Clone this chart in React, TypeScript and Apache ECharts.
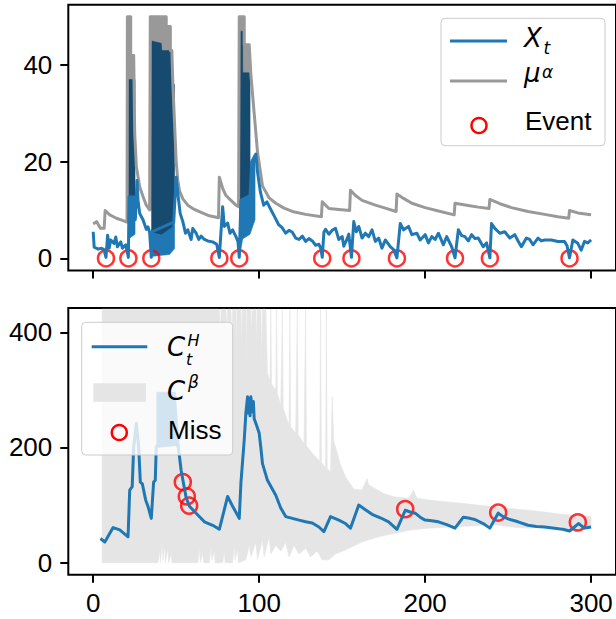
import React, { useEffect, useRef } from 'react';
import * as echarts from 'echarts';

// ---------- data ----------
const xTickValues = [0, 100, 200, 300];
const topYTicks = [0, 20, 40];
const bottomYTicks = [0, 200, 400];

const eventTimes = [7.7, 21.2, 35, 76, 88, 138, 155.6, 183, 218, 239, 287];

const xtPoints: number[][] = [
  [0, 5.5], [0.6, 2.3], [3, 1.9], [5, 2.1], [6.5, 1.8], [7.7, 0.2], [8.7, 4.8], [9.6, 2.1], [10.6, 3.8],
  [12.6, 3.1], [13.6, 4.4], [14.6, 2.4], [16.6, 3.4], [17.6, 2.1], [19.6, 2.8], [20.4, 1.5], [21.2, 0.2],
  [21.6, 12.7], [24.8, 12.7], [25.4, 8], [26.4, 16.1], [27, 12], [28, 9.3], [30, 8], [31, 7], [32, 6],
  [33, 6.5], [34, 5.4], [35, 0.2], [35.5, 5.5], [48.5, 7.5], [50, 16.8], [51, 13.4], [52.4, 9.3], [54, 7.6],
  [55.6, 5.2], [57, 5.9], [59, 3.9], [60, 6.2], [62, 5.2], [63.6, 3.9], [65, 4.6], [67, 3.9], [69, 3.6],
  [72, 3.4], [74.4, 2.9], [76, 0.2], [78, 10.7], [79, 6.6], [81, 7.3], [82.4, 5.2], [84, 5.9], [86, 4.5],
  [87.2, 3.5], [88, 0.2], [89, 12], [94.5, 13], [95.5, 20], [98, 21.6], [99, 17.9], [100.7, 13.8],
  [102.7, 11], [104.7, 11.7], [106.7, 10.3], [108.7, 9], [111.7, 7], [113.7, 6.4], [116, 5.2], [118, 5.8],
  [120, 5.4], [122, 4.2], [124, 3.9], [126, 4.6], [128, 3.5], [130, 4.1], [132, 3.6], [134, 2.7], [136, 2.9],
  [137.2, 2], [138, 0.2], [139, 5.4], [140, 6], [142, 5], [144, 5.8], [146, 6.2], [148, 3.9], [150, 4.5],
  [151, 2.5], [153, 4], [154, 5], [155.6, 0.2], [157, 7.6], [158.5, 5.5], [160, 6.6], [162, 4.2], [164, 5.2],
  [166, 4.5], [168, 5.9], [170, 3.5], [172, 4.2], [174, 2.1], [176, 3.8], [179, 2.4], [181, 1.8], [183, 0.1],
  [185, 7.2], [187, 5.9], [190, 6.6], [192, 4.9], [195, 5.2], [197, 3.8], [200, 4.9], [202, 3.2], [204, 4.5],
  [206, 3.9], [208, 5.2], [211, 2.8], [213, 4.5], [216, 2.4], [218, 0.1], [220, 5.9], [222, 4.7], [224, 4.5],
  [226, 3.6], [228, 4.9], [230, 4.1], [232, 4.2], [235, 2.4], [237, 3.2], [239, 0.1], [240, 7.2], [242, 6.2],
  [245, 5.2], [248, 5.5], [251, 4.2], [254, 4.9], [256, 3.6], [258, 2.4], [261, 4.2], [263, 3.9], [265, 2.8],
  [268, 4.2], [270, 3.6], [272, 3.8], [276, 3.8], [280, 3.5], [284, 3.5], [285.5, 2.6], [287, 0.1], [289, 3.8],
  [292, 3.1], [294, 1.7], [296, 3.5], [298, 3.2], [300, 3.8],
];

const muPoints: number[][] = [
  [0, 7.1], [2, 7.6], [4.4, 6.2], [6.6, 6.2], [7.2, 9.9], [10, 9], [14, 8.3], [18, 7.8], [20.4, 7.5],
  [20.6, 50], [22.6, 50], [22.6, 42], [24.4, 42], [25, 26], [26, 19], [28, 14.8], [30, 12.8], [32, 11],
  [34, 10], [34.4, 50], [44, 50], [44, 48], [46.5, 48], [46.5, 43], [47.4, 43], [48, 36], [49, 28], [50, 20],
  [51, 16], [52, 14], [54, 12.3], [57, 11], [60, 10.3], [65, 9.5], [70, 8.8], [75.5, 8.4], [76, 16.8],
  [78, 14.5], [80, 13], [83, 12], [86, 11], [87.6, 10.7], [88, 50], [91, 50], [91, 44.2], [94, 44.2], [95, 38],
  [97, 30], [99, 22], [102, 15], [106, 12.5], [110, 11.4], [115, 10.4], [120, 9.7], [128, 9.1], [137.5, 8.6],
  [138, 11.7], [142, 10.3], [148, 10.1], [154.5, 9.9], [155, 14.1], [158, 13], [162, 12], [170, 11],
  [176, 10.4], [182.5, 9.7], [183, 13.3], [187, 12.4], [192, 11.4], [200, 10.5], [208, 9.8], [217.5, 9],
  [218, 11.4], [225, 11], [232, 10.6], [238.5, 10.3], [239, 12.2], [245, 11.3], [252, 10.5], [262, 9.7],
  [272, 9.1], [280, 8.6], [286.5, 8.3], [287, 9.9], [292, 9.4], [300, 9],
];

// dense (rapidly oscillating) stretches, rows [x, low, high]
const muDense: number[][][] = [
  [[20.6, 8, 50], [22.6, 8, 50], [22.6, 8, 42], [24.4, 8, 42]],
  [[34.4, 10, 50], [44, 10, 50], [44, 10, 48], [46.5, 10, 48], [46.5, 10, 43], [47.4, 10, 43]],
  [[88, 10.7, 50], [91, 10.7, 50], [91, 10.7, 44.2], [94, 10.7, 44.2]],
];
const xtDenseLow: number[][][] = [
  [[21.3, 4, 12.7], [25.2, 5, 12.7]],
  [[35.2, 0.4, 6], [40, 0.6, 5.5], [46, 0.8, 6.5], [49, 2, 8]],
  [[88.3, 0.4, 13], [90, 4, 13], [94.5, 5, 13], [95.5, 6, 20], [97.5, 8, 21]],
];
const xtDenseHigh: number[][][] = [
  [[21.3, 12.7, 37], [25.2, 12.7, 37]],
  [[35.2, 5.5, 45], [41, 5, 44.5], [41.3, 5, 43], [47.4, 6.5, 43], [47.5, 7, 36], [49, 8, 36]],
  [[88.3, 12, 47], [90, 12, 47], [90.1, 12, 38.4], [94.5, 13, 38.4]],
];

const chPoints: number[][] = [
  [4.4, 42], [7, 36], [12, 61], [16, 57], [21, 45], [22, 126], [23.5, 132], [24.4, 201], [26, 242],
  [27.4, 201], [28.4, 140], [29.6, 137], [31.6, 109], [33, 98], [35, 77], [36.4, 140], [37.4, 143], [38, 201],
  [39, 205], [45, 207], [51, 205], [52, 184], [53, 160], [54.4, 138], [56, 113], [58, 98], [60, 92], [62, 86],
  [67, 71], [72, 65], [76, 58], [81, 115], [84, 98], [88, 77], [89, 138], [91, 213], [92, 260], [93, 288],
  [93.5, 260], [94, 285], [94.5, 255], [95, 288], [96, 262], [96.5, 280], [97, 250], [98, 242], [100, 225],
  [101, 200], [102, 172], [105, 143], [110, 117], [113, 95], [116, 80], [120, 77], [124, 74], [128, 71],
  [132, 69], [136, 62], [139, 54], [143, 80], [148, 74], [152, 68], [155, 60], [160, 100], [164, 92], [168, 84],
  [173, 78], [178, 71], [183, 58], [188, 91], [191, 88], [194, 86], [197, 79], [200, 74], [204, 73], [208, 71],
  [213, 66], [218, 60], [223, 79], [227, 77], [230, 75], [235, 68], [239, 60], [244, 86], [247, 80], [250, 76],
  [256, 71], [262, 65], [267, 63], [272, 62], [278, 60], [283, 58], [287, 55], [292.4, 68], [296, 60],
  [298, 61], [300, 62],
];
const chDense: number[][][] = [
  [[38.3, 200, 296], [49.5, 203, 296], [51.8, 198, 205]],
];
const missPoints: number[][] = [
  [54, 140], [56.4, 115], [57.8, 99], [188, 93], [244, 87], [292, 70],
];

const cbUpper: number[][] = [
  [5.4, 440], [76, 440], [76.5, 380], [77, 440], [80, 440], [80.5, 400], [81, 440], [83, 440], [83.5, 390],
  [84, 440], [86, 440], [86.3, 360], [86.6, 440], [89, 440], [89.4, 380], [89.8, 440], [92, 440], [92.3, 350],
  [92.6, 440], [95, 440], [95.4, 400], [95.8, 440], [98, 440], [98.4, 370], [98.8, 440], [101, 440],
  [101.5, 350], [102, 440], [104, 440], [105, 330], [106.5, 315], [107, 440], [107.5, 310], [110, 300],
  [110.5, 440], [111, 293], [113, 275], [114, 440], [114.5, 268], [117, 247], [118, 238], [118.5, 440],
  [119, 236], [122, 225], [123, 440], [123.5, 222], [127, 207], [128, 440], [128.5, 203], [132, 190],
  [136.5, 176], [137, 440], [137.5, 174], [140, 165], [140.5, 440], [141, 163], [143, 158], [144, 288],
  [145, 210], [146, 201], [149, 170], [152, 149], [157, 128], [162, 126], [165, 146], [166, 135], [168, 132],
  [175, 120], [182, 114], [190, 112], [193, 126], [195, 112], [202, 109], [212, 106], [222, 103], [232, 100],
  [242, 97], [252, 94], [262, 91], [272, 88], [282, 84], [292, 82], [300, 80],
];
const cbLower: number[][] = [
  [5.4, 0], [39, 0], [40, 20], [40.5, 0], [41.5, 34], [42, 5], [43, 30], [43.5, 0], [45, 25], [45.5, 0],
  [47, 15], [47.5, 0], [63, 0], [64, 25], [64.5, 0], [66, 18], [66.5, 0], [70, 0], [71, 28], [71.5, 5],
  [73, 20], [73.5, 0], [78, 0], [79, 20], [79.5, 0], [84, 0], [85, 31], [85.5, 5], [87, 25], [87.5, 0],
  [92, 5], [94, 30], [95, 10], [98, 35], [99, 5], [102, 40], [103, 10], [106, 45], [107, 15], [110, 30],
  [113, 20], [116, 35], [118, 10], [121, 30], [124, 15], [128, 25], [131, 10], [135, 20], [138, 5], [142, 5],
  [146, 15], [152, 22], [162, 36], [172, 45], [182, 51], [192, 57], [202, 60], [222, 63], [242, 66],
  [252, 62], [262, 60], [272, 62], [282, 63], [288, 55], [292, 54], [296, 60], [300, 63],
];

// ---------- helpers ----------
const rowsToPoly = (rows: number[][]) =>
  rows.map((r) => [r[0], r[2]]).concat(rows.slice().reverse().map((r) => [r[0], r[1]]));

function polySeries(polys: number[][][], color: string, axis: number) {
  return {
    type: 'custom',
    coordinateSystem: 'cartesian2d',
    xAxisIndex: axis,
    yAxisIndex: axis,
    silent: true,
    data: polys.map((p) => p[0]),
    renderItem: (params: any, api: any) => {
      const poly = polys[params.dataIndex];
      return {
        type: 'polygon',
        shape: { points: poly.map((pt) => api.coord(pt)) },
        style: { fill: color, stroke: color, lineWidth: 0.6 },
      };
    },
  };
}

const BLUE = '#1f77b4';
const GRAY = '#999999';
const NAVY = '#174a6f';
const BAND = '#e5e5e5';
const LW = 3;
const textFont = "'Liberation Sans', Arial, sans-serif";
const mathFont = "'DejaVu Sans', sans-serif";

function txt(text: string, x: number, y: number, size: number, italic: boolean, font: string) {
  return {
    type: 'text', x, y, z: 101,
    style: { text, fontSize: size, fontFamily: font, fontStyle: italic ? 'italic' : 'normal', fill: '#000', align: 'left', verticalAlign: 'middle' },
  };
}

export default function App() {
  const ref = useRef<HTMLDivElement>(null);
  useEffect(() => {
    if (!ref.current) return;
    const chart = echarts.init(ref.current, undefined, { renderer: 'svg' });
    const xAxisBase = (idx: number, labels: boolean) => ({
      type: 'value', gridIndex: idx, min: -15, max: 315,
      axisLine: { show: false, onZero: false },
      axisTick: { show: true, length: 8, lineStyle: { color: '#000', width: 2 }, customValues: xTickValues },
      axisLabel: { show: labels, customValues: xTickValues, fontSize: 26, color: '#000', fontFamily: textFont, margin: 15 },
      splitLine: { show: false },
    });
    const yAxisBase = (idx: number, min: number, max: number, ticks: number[]) => ({
      type: 'value', gridIndex: idx, min, max,
      axisLine: { show: false, onZero: false },
      axisTick: { show: true, length: 8, lineStyle: { color: '#000', width: 2 }, customValues: ticks },
      axisLabel: { customValues: ticks, fontSize: 26, color: '#000', fontFamily: textFont, margin: 16 },
      splitLine: { show: false },
    });
    const lineSeries = (data: number[][], color: string, axis: number) => ({
      type: 'line', xAxisIndex: axis, yAxisIndex: axis, data, symbol: 'none', showSymbol: false,
      clip: true, lineStyle: { color, width: LW, join: 'round' }, silent: true,
    });
    const circles = (data: number[][], axis: number) => ({
      type: 'scatter', xAxisIndex: axis, yAxisIndex: axis, data, symbol: 'circle', symbolSize: 16,
      clip: false, silent: true,
      itemStyle: { color: 'rgba(0,0,0,0)', borderColor: '#ff0000', borderWidth: 2.5 },
    });

    chart.setOption({
      animation: false,
      backgroundColor: '#ffffff',
      grid: [
        { left: 68.3, top: 4.7, width: 550, height: 265.7, show: true, borderColor: '#000', borderWidth: 2, backgroundColor: 'transparent' },
        { left: 68.3, top: 308.1, width: 550, height: 266.7, show: true, borderColor: '#000', borderWidth: 2, backgroundColor: 'transparent' },
      ],
      xAxis: [xAxisBase(0, false), xAxisBase(1, true)],
      yAxis: [yAxisBase(0, -2.5, 52.5, topYTicks), yAxisBase(1, -21, 442, bottomYTicks)],
      series: [
        polySeries(muDense.map(rowsToPoly), GRAY, 0),
        lineSeries(muPoints, GRAY, 0),
        polySeries(xtDenseLow.map(rowsToPoly), BLUE, 0),
        polySeries(xtDenseHigh.map(rowsToPoly), NAVY, 0),
        lineSeries(xtPoints, BLUE, 0),
        circles(eventTimes.map((t) => [t, 0]), 0),
        polySeries([cbUpper.concat(cbLower.slice().reverse())], BAND, 1),
        lineSeries(chPoints, BLUE, 1),
        polySeries(chDense.map(rowsToPoly), BLUE, 1),
        circles(missPoints, 1),
      ],
      graphic: [
        { type: 'rect', z: 100, shape: { x: 441, y: 18.3, width: 164, height: 127.4, r: 4 }, style: { fill: 'rgba(255,255,255,0.8)', stroke: '#cccccc', lineWidth: 1 } },
        { type: 'line', z: 101, shape: { x1: 450, y1: 41, x2: 507, y2: 41 }, style: { stroke: BLUE, lineWidth: LW } },
        txt('X', 524, 38.3, 26, true, mathFont),
        txt('t', 543.5, 47.5, 17, true, mathFont),
        { type: 'line', z: 101, shape: { x1: 450, y1: 81, x2: 507, y2: 81 }, style: { stroke: GRAY, lineWidth: LW } },
        txt('μ', 524, 72.8, 26, true, mathFont),
        txt('α', 542, 71.5, 17, true, mathFont),
        { type: 'circle', z: 101, shape: { cx: 479, cy: 125.5, r: 7.5 }, style: { fill: 'none', stroke: '#ff0000', lineWidth: 2.5 } },
        txt('Event', 525, 121.3, 26, false, textFont),

        { type: 'rect', z: 100, shape: { x: 81.7, y: 322.3, width: 151, height: 132.7, r: 4 }, style: { fill: 'rgba(255,255,255,0.8)', stroke: '#cccccc', lineWidth: 1 } },
        { type: 'line', z: 101, shape: { x1: 91.7, y1: 346.7, x2: 147.3, y2: 346.7 }, style: { stroke: BLUE, lineWidth: LW } },
        txt('C', 167, 347.3, 26, true, mathFont),
        txt('H', 187.5, 340.5, 16, true, mathFont),
        txt('t', 186, 359, 16, true, mathFont),
        { type: 'rect', z: 101, shape: { x: 93.3, y: 383.3, width: 52.7, height: 18.4 }, style: { fill: BAND } },
        txt('C', 167, 391, 26, true, mathFont),
        txt('β', 188, 381.5, 17, true, mathFont),
        { type: 'circle', z: 101, shape: { cx: 119.3, cy: 432.5, r: 7.5 }, style: { fill: 'none', stroke: '#ff0000', lineWidth: 2.5 } },
        txt('Miss', 168, 430, 26, false, textFont),
      ],
    });
    return () => chart.dispose();
  }, []);
  return <div ref={ref} style={{ position: 'fixed', left: 0, top: 0, width: 616, height: 619 }} />;
}
